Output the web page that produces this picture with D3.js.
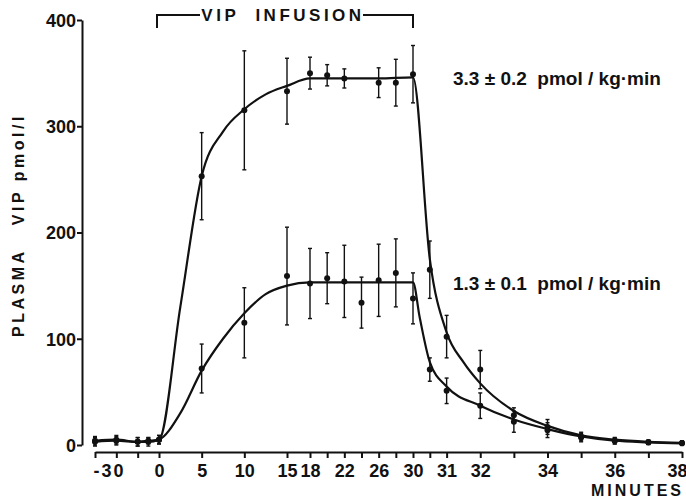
<!DOCTYPE html>
<html>
<head>
<meta charset="utf-8">
<script src="https://cdn.jsdelivr.net/npm/d3@7"></script>
<style>
  body { margin: 0; background: #fff; }
  svg text { font-family: "Liberation Sans Narrow", "Liberation Sans", Arial, sans-serif; font-weight: bold; fill: #111; }
</style>
</head>
<body>
<div id="chart"></div>
<script>
// measured time points (minutes)
const times = [-30, -20, -10, -5, 0, 5, 10, 15, 18, 20, 22, 24, 26, 28, 30, 30.5, 31, 32, 33, 34, 35, 36, 37, 38];

// 3.3 pmol/kg.min group (null = no point)
const high_mean = [4, 5, 3, 4, 5, 253, 315, 333, 350, 348, 345, null, 341, 341, 349, 165, 102, 71, 28, 17, 8, 4, 2.5, 2];
const high_err  = [4, 4, 4, 3, 4, 41, 56, 31, 15, 10, 9, null, 14, 22, 27, 27, 20, 18, 7, 7, 4, 3, 2, 2];

// 1.3 pmol/kg.min group
const low_mean = [3, 4, 3, 3, 5, 72, 115, 159, 152, 157, 154, 134, 155, 162, 138, 71, 51, 37, 22, 14, 7, 4, 2.5, 1.6];
const low_err  = [4, 4, 4, 4, 4, 23, 33, 46, 33, 24, 34, 24, 34, 32, 24, 11, 12, 12, 10, 7, 4, 3, 2, 2];

// fitted curves
const high_fit_t = [-30, -20, -10, -5, 0, 2.5, 5, 7.5, 10, 12.5, 15, 18, 22, 26, 30, 30.5, 31, 31.5, 32, 33, 34, 35, 36, 37, 38];
const high_fit_v = [4, 5, 3, 4, 5, 130, 253, 295, 316, 330, 338, 345, 345, 345, 346, 175, 106, 78, 58, 32, 18, 9, 5, 3, 2];
const low_fit_t = [-30, -20, -10, -5, 0, 2.5, 5, 7.5, 10, 12.5, 15, 18, 22, 26, 30, 30.2, 30.5, 31, 32, 33, 34, 35, 36, 37, 38];
const low_fit_v = [3, 4, 3, 3, 5, 30, 70, 100, 124, 142, 150, 153, 153, 153, 153, 120, 78, 55, 37, 24, 15, 8, 4, 2.5, 1.6];

const x_ticks = [-30, -20, -10, 0, 5, 10, 15, 18, 20, 22, 24, 26, 28, 30, 30.5, 31, 32, 33, 34, 35, 36, 37, 38];
const x_labels = [-30, 0, 5, 10, 15, 18, 22, 26, 30, 31, 32, 34, 36, 38];
const y_ticks = [0, 100, 200, 300, 400];

const chart_width = 686;
const chart_height = 500;

const svg = d3.select('#chart')
    .append('svg')
    .attr('width', chart_width)
    .attr('height', chart_height);

// broken time axis: compressed before infusion, stretched after it
const x_scale = d3.scaleLinear()
    .domain([-30, 0, 15, 18, 30, 38])
    .range([95, 159, 287, 310, 413, 682]);

const y_scale = d3.scaleLinear()
    .domain([0, 400])
    .range([445, 20]);

// axes
const y_axis = svg.append('g')
    .attr('transform', 'translate(82,0)')
    .call(d3.axisLeft(y_scale).tickValues(y_ticks).tickSize(5).tickSizeOuter(0));

const x_axis = svg.append('g')
    .attr('transform', 'translate(0,452)')
    .call(d3.axisBottom(x_scale)
        .tickValues(x_ticks)
        .tickSize(6)
        .tickSizeOuter(0)
        .tickFormat(d => x_labels.includes(d) ? (d < 0 ? '-' + Math.abs(d) : d) : ''));

svg.selectAll('.domain, .tick line')
    .attr('stroke', '#111')
    .attr('stroke-width', 2);

y_axis.selectAll('text')
    .attr('font-size', 18)
    .attr('x', -6)
    .attr('dy', '0.36em');

x_axis.selectAll('text')
    .attr('font-size', 18)
    .attr('y', 12);

x_axis.selectAll('.tick')
    .filter(d => d === -30)
    .select('text')
    .attr('text-anchor', 'start')
    .attr('dx', -2)
    .attr('letter-spacing', 2);

x_axis.selectAll('.tick')
    .filter(d => d === 38)
    .select('text')
    .attr('text-anchor', 'end')
    .attr('dx', 5);

svg.append('text')
    .attr('x', 684)
    .attr('y', 496)
    .attr('text-anchor', 'end')
    .attr('font-size', 16)
    .attr('letter-spacing', 3)
    .text('MINUTES');

svg.append('text')
    .attr('transform', 'translate(24,225) rotate(-90)')
    .attr('text-anchor', 'middle')
    .attr('font-size', 16)
    .attr('letter-spacing', 3.5)
    .attr('xml:space', 'preserve')
    .text('PLASMA   VIP pmol/l');

// infusion bracket
const bx0 = x_scale(0) - 2;
const bx1 = x_scale(30);
const bracket = svg.append('g')
    .attr('stroke', '#111')
    .attr('stroke-width', 2)
    .attr('fill', 'none');
bracket.append('path').attr('d', `M${bx0},28V15H${bx0 + 43}`);
bracket.append('path').attr('d', `M${bx1 - 50},15H${bx1}V28`);
svg.append('text')
    .attr('x', (bx0 + bx1) / 2 - 2)
    .attr('y', 21)
    .attr('text-anchor', 'middle')
    .attr('font-size', 17)
    .attr('letter-spacing', 3.5)
    .attr('xml:space', 'preserve')
    .text('VIP  INFUSION');

// fitted curves
const line = d3.line()
    .x(d => x_scale(d[0]))
    .y(d => y_scale(d[1]))
    .curve(d3.curveMonotoneX);

svg.append('path')
    .datum(high_fit_t.map((t, i) => [t, high_fit_v[i]]))
    .attr('d', line)
    .attr('fill', 'none')
    .attr('stroke', '#111')
    .attr('stroke-width', 2.2);

svg.append('path')
    .datum(low_fit_t.map((t, i) => [t, low_fit_v[i]]))
    .attr('d', line)
    .attr('fill', 'none')
    .attr('stroke', '#111')
    .attr('stroke-width', 2.2);

// points with error bars
function drawSeries(means, errs) {
    const pts = times.map((t, i) => ({ t: t, m: means[i], e: errs[i] }))
        .filter(d => d.m !== null);
    const g = svg.append('g');
    const bars = g.selectAll('g')
        .data(pts)
        .enter()
        .append('g')
        .attr('stroke', '#111')
        .attr('stroke-width', 1.4);
    bars.append('line')
        .attr('x1', d => x_scale(d.t))
        .attr('x2', d => x_scale(d.t))
        .attr('y1', d => y_scale(d.m + d.e))
        .attr('y2', d => y_scale(d.m - d.e));
    bars.append('line')
        .attr('x1', d => x_scale(d.t) - 2)
        .attr('x2', d => x_scale(d.t) + 2)
        .attr('y1', d => y_scale(d.m + d.e))
        .attr('y2', d => y_scale(d.m + d.e));
    bars.append('line')
        .attr('x1', d => x_scale(d.t) - 2)
        .attr('x2', d => x_scale(d.t) + 2)
        .attr('y1', d => y_scale(d.m - d.e))
        .attr('y2', d => y_scale(d.m - d.e));
    g.selectAll('circle')
        .data(pts)
        .enter()
        .append('circle')
        .attr('cx', d => x_scale(d.t))
        .attr('cy', d => y_scale(d.m))
        .attr('r', 3)
        .attr('fill', '#111');
}
drawSeries(high_mean, high_err);
drawSeries(low_mean, low_err);

// dose labels
svg.append('text')
    .attr('x', 453)
    .attr('y', 85)
    .attr('font-size', 19)
    .attr('xml:space', 'preserve')
    .text('3.3 ± 0.2  pmol / kg·min');

svg.append('text')
    .attr('x', 453)
    .attr('y', 290)
    .attr('font-size', 19)
    .attr('xml:space', 'preserve')
    .text('1.3 ± 0.1  pmol / kg·min');
</script>
</body>
</html>
